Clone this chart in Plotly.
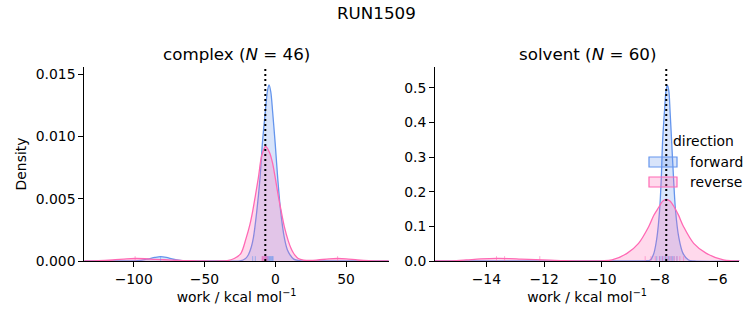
import plotly.graph_objects as go

W, H = 753, 325
FONT = "DejaVu Sans"
BLUE = "#6495ED"
PINK = "#FF69B4"
BLUE_FILL = "rgba(100,149,237,0.25)"
PINK_FILL = "rgba(255,105,180,0.25)"
BLUE_RUG = "rgba(100,149,237,0.55)"
PINK_RUG = "rgba(255,105,180,0.55)"

# ---------------- data ----------------
suptitle = "RUN1509"
directions = ["forward", "reverse"]

# complex phase, N = 46
complex_n = 46
complex_dg = -7.06
complex_fwd_x = [-135, -110, -100, -95, -90, -85, -81, -77, -72, -67, -60, -50, -35, -25, -21,
                 -19, -17, -15.5, -13.1, -10.8, -9.2, -7.06, -5.5, -4.45, -3.2, -1.9, 0, 1.7,
                 3.8, 6.4, 8.5, 10.4, 13, 17, 25, 50, 80]
complex_fwd_d = [0, 0, 0.00001, 0.00005, 0.00016, 0.00029, 0.00035, 0.00029, 0.00014, 0.00005,
                 0.00001, 0, 0, 0, 0.0002, 0.0005, 0.0011, 0.00185, 0.00399, 0.00666, 0.00933,
                 0.01201, 0.0137, 0.01415, 0.0136, 0.01201, 0.00933, 0.00666, 0.00399, 0.00185,
                 0.0009, 0.0005, 0.00015, 0.00002, 0, 0, 0]
complex_rev_x = [-135, -125, -115, -105, -99, -92, -85, -78, -70, -60, -50, -40, -34, -29, -24.4,
                 -20.7, -18, -16, -14, -12, -9.5, -6.8, -4, -2, -0.2, 2, 4, 6.5, 9.2, 11, 12.5,
                 14, 16.2, 20, 25, 30, 38, 44, 50, 58, 66, 75, 80]
complex_rev_d = [0, 0.00002, 0.00008, 0.00017, 0.0002, 0.00018, 0.00013, 0.0001, 0.00006, 0.00002,
                 0, 0, 0.00003, 0.0002, 0.0006, 0.0018, 0.0029, 0.00399, 0.0053, 0.00666, 0.0085,
                 0.0092, 0.0087, 0.0079, 0.0068, 0.0053, 0.0041, 0.0027, 0.0016, 0.00105, 0.0007,
                 0.00045, 0.0002, 0.00007, 0.00004, 0.00008, 0.00017, 0.0002, 0.00017, 0.00008,
                 0.00002, 0, 0]
complex_fwd_rug = [-81, -16, -14.1, -9, -8, -7, -6.5, -6, -5.5, -5, -4.5, -4, -3.5, -3, -2.5, -2, -1.5]
complex_rev_rug = [-99, 44, -9.4, -9, -8.5, -8, -7.5, -7, -6.5, -6.1, -5.2]

# solvent phase, N = 60
solvent_n = 60
solvent_dg = -7.77
solvent_fwd_x = [-15.8, -9, -8.5, -8.32, -8.2, -8.09, -8.0, -7.94, -7.90, -7.83, -7.78, -7.73,
                 -7.68, -7.64, -7.58, -7.52, -7.45, -7.34, -7.19, -7.0, -6.8, -5.2]
solvent_fwd_d = [0, 0, 0.0005, 0.003, 0.022, 0.07, 0.147, 0.243, 0.339, 0.435, 0.49, 0.507,
                 0.49, 0.435, 0.339, 0.243, 0.147, 0.07, 0.022, 0.003, 0, 0]
solvent_rev_x = [-15.8, -15.2, -14.7, -14.2, -13.65, -13.2, -12.8, -12.3, -11.8, -11.3, -10.5,
                 -10.0, -9.65, -9.13, -8.73, -8.38, -8.2, -8.03, -7.9, -7.77, -7.64, -7.49, -7.35,
                 -7.17, -6.82, -6.38, -5.79, -5.5, -5.2]
solvent_rev_d = [0, 0.0005, 0.003, 0.006, 0.0077, 0.007, 0.0055, 0.004, 0.0025, 0.0008, 0.0001,
                 0.0005, 0.003, 0.022, 0.051, 0.099, 0.132, 0.155, 0.172, 0.178, 0.173, 0.155,
                 0.133, 0.099, 0.051, 0.022, 0.003, 0.0005, 0]
solvent_fwd_rug = [-8.1, -8.0, -7.95, -7.9, -7.85, -7.8, -7.75, -7.7, -7.65, -7.6, -7.55, -7.5, -7.4]
solvent_rev_rug = [-13.65, -13.37, -12.15, -8.5, -8.3, -8.15, -8.0, -7.9, -7.8, -7.7, -7.6,
                   -7.5, -7.4, -7.3, -7.17]

# ---------------- figure ----------------
def fx(p):
    return p / W


def fy(p):
    return 1 - p / H


fig = go.Figure()
panels = [
    dict(xa="x", ya="y", fwd=(complex_fwd_x, complex_fwd_d), rev=(complex_rev_x, complex_rev_d),
         rf=complex_fwd_rug, rr=complex_rev_rug, dg=complex_dg),
    dict(xa="x2", ya="y2", fwd=(solvent_fwd_x, solvent_fwd_d), rev=(solvent_rev_x, solvent_rev_d),
         rf=solvent_fwd_rug, rr=solvent_rev_rug, dg=solvent_dg),
]
shapes = []
for p in panels:
    for (xs, ds), col, fill, name in [(p["fwd"], BLUE, BLUE_FILL, directions[0]),
                                      (p["rev"], PINK, PINK_FILL, directions[1])]:
        fig.add_trace(go.Scatter(x=xs, y=ds, mode="lines", name=name, xaxis=p["xa"], yaxis=p["ya"],
                                 line=dict(color=col, width=1.3, shape="spline", smoothing=0.9),
                                 fill="tozeroy", fillcolor=fill, showlegend=False,
                                 hoverinfo="skip"))
    for vals, col in [(p["rf"], BLUE_RUG), (p["rr"], PINK_RUG)]:
        for v in vals:
            shapes.append(dict(type="line", xref=p["xa"], yref=p["ya"] + " domain", x0=v, x1=v,
                               y0=0, y1=0.025, line=dict(color=col, width=1)))
    shapes.append(dict(type="line", xref=p["xa"], yref=p["ya"] + " domain", x0=p["dg"], x1=p["dg"],
                       y0=0, y1=1, line=dict(color="black", width=2, dash="2px,3px")))

# legend (drawn manually, matplotlib style)
shapes.append(dict(type="rect", xref="paper", yref="paper", x0=fx(649), x1=fx(677), y0=fy(167), y1=fy(157),
                   fillcolor=BLUE_FILL, line=dict(color=BLUE, width=1.2)))
shapes.append(dict(type="rect", xref="paper", yref="paper", x0=fx(649), x1=fx(677), y0=fy(187), y1=fy(177),
                   fillcolor=PINK_FILL, line=dict(color=PINK, width=1.2)))

axis_common = dict(showline=True, linecolor="black", linewidth=1, ticks="outside", ticklen=5,
                   tickwidth=1, tickcolor="black", showgrid=False, zeroline=False, automargin=False,
                   tickfont=dict(family=FONT, size=13.9, color="black"))

top_px, bot_px = 67, 261
ydom = [fy(bot_px), fy(top_px)]
fig.update_layout(
    width=W, height=H, margin=dict(l=0, r=0, t=0, b=0, pad=0, autoexpand=False),
    paper_bgcolor="white", plot_bgcolor="white", showlegend=False,
    font=dict(family=FONT, size=13.9, color="black"),
    shapes=shapes,
    xaxis=dict(domain=[fx(84.3), fx(389)], range=[-134.9, 80.3], anchor="y", dtick=50, tick0=0,
               title=dict(text="work / kcal mol<sup>−1</sup>", font=dict(family=FONT, size=13.9), standoff=6),
               **axis_common),
    yaxis=dict(domain=ydom, range=[0, 0.01559], anchor="x", tickvals=[0, 0.005, 0.010, 0.015],
               tickformat=".3f",
               title=dict(text="Density", font=dict(family=FONT, size=13.9), standoff=5),
               **axis_common),
    xaxis2=dict(domain=[fx(435), fx(739.3)], range=[-15.78, -5.24], anchor="y2", dtick=2, tick0=0,
                title=dict(text="work / kcal mol<sup>−1</sup>", font=dict(family=FONT, size=13.9), standoff=6),
                **axis_common),
    yaxis2=dict(domain=ydom, range=[0, 0.5597], anchor="x2", dtick=0.1, tick0=0, tickformat=".1f",
                **axis_common),
)

ann = [
    dict(text=suptitle, x=0.5, y=fy(13), font=dict(size=16.7)),
    dict(text=f"complex (<i>N</i> = {complex_n})", x=fx((84.3 + 389) / 2), y=fy(54), font=dict(size=16.7)),
    dict(text=f"solvent (<i>N</i> = {solvent_n})", x=fx((435 + 739.3) / 2), y=fy(54), font=dict(size=16.7)),
    dict(text="direction", x=fx(703), y=fy(141), font=dict(size=13.9)),
    dict(text=directions[0], x=fx(688), y=fy(162), xanchor="left", font=dict(size=13.9)),
    dict(text=directions[1], x=fx(688), y=fy(182), xanchor="left", font=dict(size=13.9)),
]
for a in ann:
    a.setdefault("xanchor", "center")
    fig.add_annotation(xref="paper", yref="paper", yanchor="middle", showarrow=False,
                       **{k: v for k, v in a.items()})

fig.write_html("out.html")
